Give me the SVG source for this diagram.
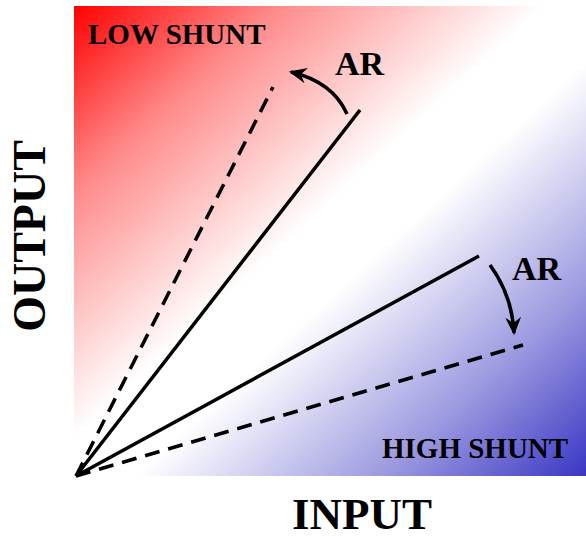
<svg xmlns="http://www.w3.org/2000/svg" width="586" height="539" viewBox="0 0 586 539">
<style>
.lbl{font-family:"Liberation Serif","Times New Roman",serif;font-weight:bold;fill:#000}
.solid{stroke:#000;stroke-width:3.5;fill:none}
.dash{stroke:#000;stroke-width:3.5;fill:none;stroke-dasharray:15 9}
.curve{stroke:#000;stroke-width:3.5;fill:none}
</style>
<defs>
<linearGradient id="bg" x1="0" y1="0" x2="1" y2="1">
<stop offset="0" stop-color="#ff0000"/>
<stop offset="0.2" stop-color="#ff8a8a"/>
<stop offset="0.46" stop-color="#ffffff"/>
<stop offset="0.56" stop-color="#ffffff"/>
<stop offset="0.8" stop-color="#9c9ae0"/>
<stop offset="1" stop-color="#3a36c4"/>
</linearGradient>
<marker id="ah2" viewBox="0 0 16 16" refX="14" refY="8" markerWidth="18" markerHeight="18" orient="auto" markerUnits="userSpaceOnUse">
<path d="M0,1 L16,8 L0,15 L5,8 Z" fill="#000"/>
</marker>
</defs>
<rect x="74" y="6" width="512" height="470" fill="url(#bg)"/>
<g id="connectors">
<line class="dash" x1="76" y1="476" x2="273" y2="87"/>
<line class="solid" x1="76" y1="476" x2="360" y2="110"/>
<line class="solid" x1="76" y1="476" x2="479" y2="256"/>
<line class="dash" x1="76" y1="476" x2="523" y2="345"/>
<path class="curve" d="M347,114 Q333,82 291,72" marker-end="url(#ah2)"/>
<path class="curve" d="M490,265 Q512,295 514,333" marker-end="url(#ah2)"/>
</g>
<g id="low-shunt"><text class="lbl" x="88" y="44" font-size="29">LOW SHUNT</text></g>
<g id="high-shunt"><text class="lbl" x="382" y="458" font-size="29">HIGH SHUNT</text></g>
<g id="ar-top"><text class="lbl" x="335" y="75" font-size="34">AR</text></g>
<g id="ar-bottom"><text class="lbl" x="512" y="280" font-size="34">AR</text></g>
<g id="input-label"><text class="lbl" x="362" y="529" font-size="45" text-anchor="middle">INPUT</text></g>
<g id="output-label"><text class="lbl" x="0" y="0" font-size="46" text-anchor="middle" transform="translate(45,236) rotate(-90)">OUTPUT</text></g>
</svg>
